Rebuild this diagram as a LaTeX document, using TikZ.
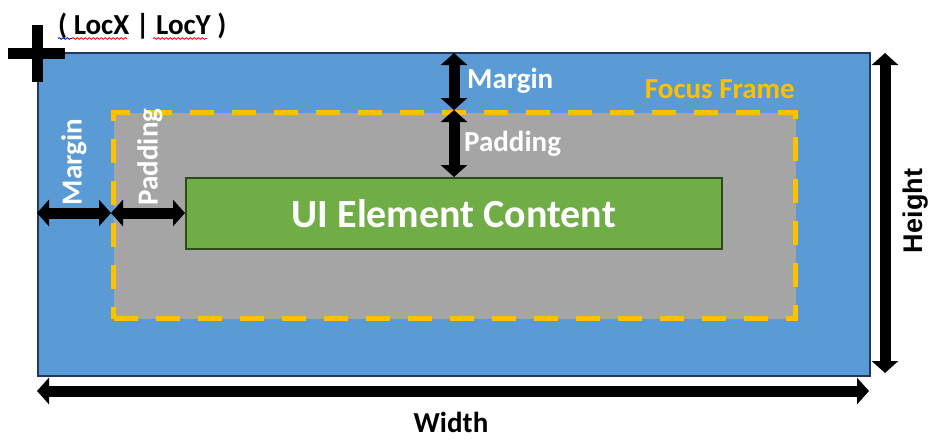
\documentclass[tikz,border=0pt]{standalone}
\usepackage{fontspec}
\setmainfont{Carlito}
\newfontfamily\arialbold{Liberation Sans}[BoldFont=* Bold]
\usetikzlibrary{arrows.meta,decorations.pathmorphing}
\definecolor{uiblue}{HTML}{5B9BD5}
\definecolor{uiborder}{HTML}{203864}
\definecolor{uigray}{HTML}{A5A5A5}
\definecolor{uigreen}{HTML}{70AD47}
\definecolor{uigreenb}{HTML}{2E4A1C}
\definecolor{uiyellow}{HTML}{FFC000}
\tikzset{
  dimarrow/.style={line width=11pt,{Triangle[width=26pt,length=12pt]}-{Triangle[width=26pt,length=12pt]}},
  lbl/.style={font=\bfseries\fontsize{29}{34}\selectfont, inner sep=0pt},
  wavy/.style={decorate,decoration={snake,amplitude=0.9pt,segment length=4pt},line width=0.8pt}
}
\begin{document}
\begin{tikzpicture}[x=1pt,y=-1pt]
\useasboundingbox (0,0) rectangle (944,439);
% outer element
\node[draw=uiborder,line width=1.5pt,fill=uiblue,minimum width=832pt,minimum height=323pt,inner sep=0pt,anchor=north west] (outer) at (37,52) {};
% focus frame
\node[draw=uiyellow,line width=5pt,dash pattern=on 24pt off 18pt,fill=uigray,minimum width=682pt,minimum height=206pt,inner sep=0pt,anchor=north west] (frame) at (111,110) {};
% content
\node[draw=uigreenb,line width=1.5pt,fill=uigreen,minimum width=536pt,minimum height=71pt,inner sep=0pt,anchor=north west,text=white,font=\bfseries\fontsize{40}{48}\selectfont] (content) at (185,177) {UI Element Content};
% cross
\coordinate (loc) at (37.5,53.5);
\draw[line width=11pt] ([xshift=-29.5pt]loc) -- ([xshift=27.5pt]loc);
\draw[line width=11pt] ([yshift=-28.5pt]loc) -- ([yshift=28.5pt]loc);
\node[lbl,anchor=base west] (locxy) at (58,34) {( LocX | LocY )};
\draw[wavy,blue!70!black] (58,38.5) -- (72,38.5);
\draw[wavy,red] (72,38.5) -- (127,38.5);
\draw[wavy,red] (153,38.5) -- (207,38.5);
% top margin / padding
\coordinate (tm) at (454,53);
\coordinate (tf) at (454,110);
\coordinate (tc) at (454,177);
\draw[dimarrow] (tm) -- (tf);
\draw[dimarrow] (tf) -- (tc);
\node[lbl,text=white,anchor=west] (mtop) at (467,81) {Margin};
\node[lbl,text=white,anchor=west] (ptop) at (464,144) {Padding};
\node[lbl,text=uiyellow,anchor=east] (ff) at (795,89) {Focus Frame};
% left margin / padding
\coordinate (lm) at (37,213);
\coordinate (lf) at (111,213);
\coordinate (lc) at (185,213);
\draw[dimarrow] (lm) -- (lf);
\draw[dimarrow] (lf) -- (lc);
\node[lbl,text=white,rotate=90] (mleft) at (74,162) {Margin};
\node[lbl,text=white,rotate=90] (pleft) at (150,157) {Padding};
% height
\coordinate (ht) at (885,53);
\coordinate (hb) at (885,373);
\draw[dimarrow] (ht) -- (hb);
\node[inner sep=0pt,font=\arialbold\bfseries\fontsize{27}{32}\selectfont,rotate=90] (height) at (916,211) {Height};
% width
\coordinate (wl) at (37,391);
\coordinate (wr) at (869,391);
\draw[dimarrow] (wl) -- (wr);
\node[lbl] (width) at (451,422) {Width};
\end{tikzpicture}
\end{document}
